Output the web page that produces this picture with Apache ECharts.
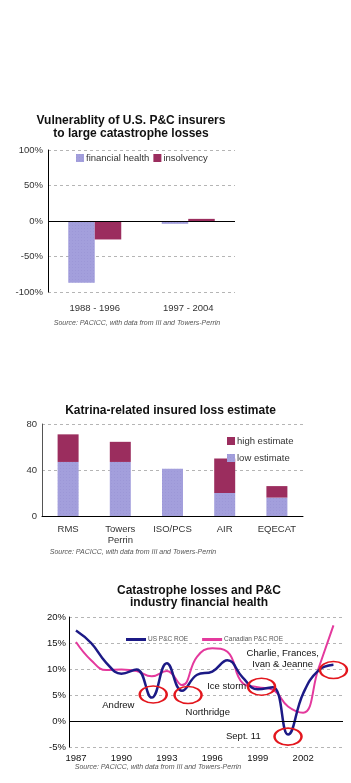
<!DOCTYPE html>
<html>
<head>
<meta charset="utf-8">
<script src="https://cdn.jsdelivr.net/npm/echarts@6/dist/echarts.min.js"></script>
<style>
  html, body { margin: 0; padding: 0; background: #fff; }
  #chart { width: 351px; height: 783px; }
</style>
</head>
<body>
<div id="chart"></div>
<script>
// chart 1: vulnerability
const periods = ["1988 - 1996", "1997 - 2004"]
const financialHealth = [-87, -4]
const insolvency = [-26, 3]

// chart 2: Katrina estimates
const modelers = ["RMS", "Towers\nPerrin", "ISO/PCS", "AIR", "EQECAT"]
const lowEstimate = [47, 47, 41, 20, 16]
const highEstimate = [71, 64.5, null, 50, 26]

// chart 3: ROE
const years = [1987, 1988, 1989, 1990, 1991, 1992, 1993, 1994, 1995, 1996, 1997, 1998, 1999, 2000, 2001, 2002, 2003, 2004]
const usRoe = [17.4, 15.0, 11.2, 9.1, 9.9, 4.5, 11.1, 5.8, 8.9, 9.5, 11.7, 8.4, 6.1, 6.5, -2.6, 5.3, 9.7, 10.8]
const canRoe = [15.2, 11.7, 9.8, 9.9, 9.6, 8.6, 9.6, 6.9, 12.4, 14.0, 13.3, 7.3, 6.5, 6.0, 2.8, 1.6, 10.0, 18.4]
const yearTicks = [1987, 1990, 1993, 1996, 1999, 2002]

// events circled on chart 3 (year, roe)
const eventCircles = [[1992.1, 5.1], [1994.4, 5.0], [1999.25, 6.6], [2001.0, -3.0], [2004.0, 9.8]]
const eventLabels = [
    ["Andrew", 1989.8, 3.1],
    ["Northridge", 1995.7, 1.6],
    ["Ice storm", 1996.95, 6.6],
    ["Charlie, Frances,\nIvan & Jeanne", 2000.65, 11.9],
    ["Sept. 11", 1998.05, -2.9]
]

const LAV = "#a39fdc"
const MAROON = "#9b2d5e"
const NAVY = "#1c1a86"
const PINK = "#e4399d"
const FONT = "Liberation Sans"

const dots = {
    symbol: "circle",
    symbolSize: 0.6,
    dashArrayX: [1, 2],
    dashArrayY: [1, 2],
    color: "rgba(110,100,185,0.55)"
}

const dashGrid = { show: true, lineStyle: { color: "#b5b5b5", type: [3, 3], width: 1 } }
const zeroLine = {
    silent: true,
    symbol: "none",
    label: { show: false },
    lineStyle: { color: "#000", type: "solid", width: 1 },
    data: [{ yAxis: 0 }]
}

const titleText = (text, x, y) => ({
    type: "text", x, y,
    style: { text, textAlign: "center", textVerticalAlign: "middle", font: "bold 12px " + FONT, fill: "#111" }
})
const sourceText = (x, y) => ({
    type: "text", x, y,
    style: {
        text: "Source: PACICC, with data from III and Towers-Perrin",
        textAlign: "center", textVerticalAlign: "middle", font: "italic 7px " + FONT, fill: "#555"
    }
})

const markItems = eventCircles.map(c => ({
    coord: c,
    symbol: "circle",
    symbolSize: [27, 17],
    itemStyle: { color: "rgba(0,0,0,0)", borderColor: "#e3161d", borderWidth: 2 },
    label: { show: false }
})).concat(eventLabels.map(e => ({
    coord: [e[1], e[2]],
    symbol: "circle",
    symbolSize: 0,
    label: { show: true, position: "inside", formatter: e[0], color: "#111", fontSize: 9.5, lineHeight: 11, fontFamily: FONT }
})))

const option = {
    animation: false,
    textStyle: { fontFamily: FONT },
    graphic: [
        titleText("Vulnerablity of U.S. P&C insurers", 131, 121),
        titleText("to large catastrophe losses", 131, 133.5),
        sourceText(137, 323),
        titleText("Katrina-related insured loss estimate", 170.5, 411),
        sourceText(133, 552),
        titleText("Catastrophe losses and P&C", 199, 591),
        titleText("industry financial health", 199, 603),
        sourceText(158, 767)
    ],
    legend: [
        {
            data: ["financial health", "insolvency"],
            left: 66, top: 151,
            padding: [2, 10, 2, 10],
            backgroundColor: "#fff",
            icon: "rect", itemWidth: 8, itemHeight: 8, itemGap: 4,
            textStyle: { fontSize: 9.5, color: "#333", padding: [0, 0, 0, -3] }
        },
        {
            data: ["high estimate", "low estimate"],
            orient: "vertical",
            left: 222, top: 431,
            icon: "rect", itemWidth: 8, itemHeight: 8, itemGap: 7,
            textStyle: { fontSize: 9.5, color: "#333", padding: [0, 0, 0, -3] }
        },
        {
            data: ["US P&C ROE", "Canadian P&C ROE"],
            left: 121, top: 631,
            icon: "rect", itemWidth: 20, itemHeight: 3, itemGap: 14,
            textStyle: { fontSize: 6.5, color: "#555", padding: [0, 0, 0, -3] }
        }
    ],
    grid: [
        { left: 48, right: 116, top: 150, bottom: 491 },
        { left: 42, right: 48, top: 424, bottom: 267 },
        { left: 69, right: 8, top: 617, bottom: 36 }
    ],
    xAxis: [
        {
            gridIndex: 0, type: "category", data: periods,
            axisLine: { show: false }, axisTick: { show: false },
            axisLabel: { fontSize: 9.5, color: "#333", margin: 11 }
        },
        {
            gridIndex: 1, type: "category", data: modelers,
            axisLine: { lineStyle: { color: "#000", width: 1 } }, axisTick: { show: false },
            axisLabel: { fontSize: 9.5, color: "#333", margin: 8, lineHeight: 11 }
        },
        {
            gridIndex: 2, type: "value", min: 1986.54, max: 2004.63,
            axisLine: { show: false }, axisTick: { show: false }, splitLine: { show: false },
            axisLabel: { fontSize: 9.5, color: "#111", margin: 6, customValues: yearTicks, formatter: v => String(v) }
        }
    ],
    yAxis: [
        {
            gridIndex: 0, type: "value", min: -100, max: 100, interval: 50,
            axisLine: { show: true, lineStyle: { color: "#000" } }, axisTick: { show: false },
            axisLabel: { formatter: "{value}%", fontSize: 9.5, color: "#333", margin: 5 },
            splitLine: dashGrid
        },
        {
            gridIndex: 1, type: "value", min: 0, max: 80, interval: 40,
            axisLine: { show: true, lineStyle: { color: "#555" } }, axisTick: { show: false },
            axisLabel: { fontSize: 9.5, color: "#333", margin: 5 },
            splitLine: dashGrid
        },
        {
            gridIndex: 2, type: "value", min: -5, max: 20, interval: 5,
            axisLine: { show: true, lineStyle: { color: "#000" } }, axisTick: { show: false },
            axisLabel: { formatter: "{value}%", fontSize: 9.5, color: "#111", margin: 3 },
            splitLine: dashGrid
        }
    ],
    series: [
        {
            name: "financial health", type: "bar", xAxisIndex: 0, yAxisIndex: 0,
            data: financialHealth, barWidth: 26.5, barGap: "0%",
            itemStyle: { color: LAV, decal: dots },
            markLine: zeroLine
        },
        {
            name: "insolvency", type: "bar", xAxisIndex: 0, yAxisIndex: 0,
            data: insolvency, barWidth: 26.5, barGap: "0%",
            itemStyle: { color: MAROON }
        },
        {
            name: "low estimate", type: "bar", xAxisIndex: 1, yAxisIndex: 1, stack: "k",
            data: lowEstimate, barWidth: 21,
            itemStyle: { color: LAV, decal: dots }
        },
        {
            name: "high estimate", type: "bar", xAxisIndex: 1, yAxisIndex: 1, stack: "k",
            data: highEstimate.map((h, i) => (h == null ? null : h - lowEstimate[i])), barWidth: 21,
            itemStyle: { color: MAROON }
        },
        {
            name: "US P&C ROE", type: "line", xAxisIndex: 2, yAxisIndex: 2,
            data: years.map((y, i) => [y, usRoe[i]]),
            smooth: 0.45, showSymbol: false, z: 3,
            lineStyle: { color: NAVY, width: 2.5 }, itemStyle: { color: NAVY },
            markLine: zeroLine
        },
        {
            name: "Canadian P&C ROE", type: "line", xAxisIndex: 2, yAxisIndex: 2,
            data: years.map((y, i) => [y, canRoe[i]]),
            smooth: 0.45, showSymbol: false, z: 2,
            lineStyle: { color: PINK, width: 2 }, itemStyle: { color: PINK },
            markPoint: { silent: true, data: markItems }
        }
    ]
}

const myChart = echarts.init(document.getElementById("chart"))
myChart.setOption(option)
</script>
</body>
</html>
